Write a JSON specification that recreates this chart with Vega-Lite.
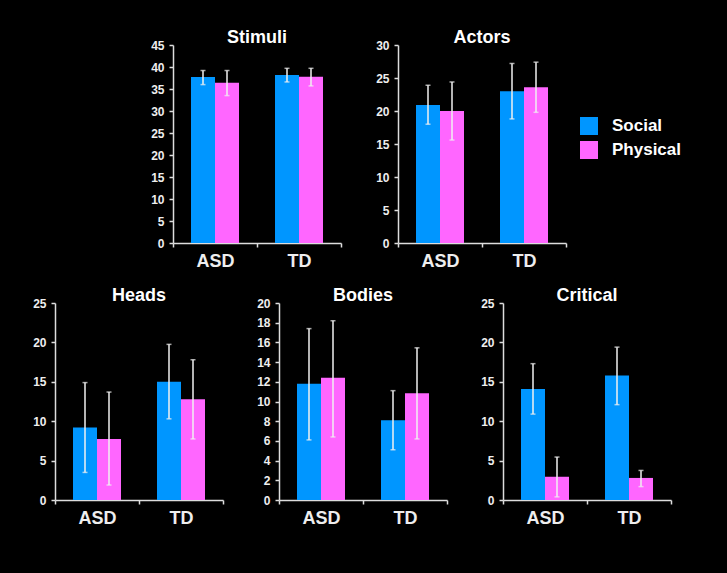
{
  "$schema": "https://vega.github.io/schema/vega-lite/v6.json",
  "background": "black",
  "padding": {"left": 32, "top": 29, "right": 46, "bottom": 55},
  "datasets": {
    "d": [
      {"panel": "Stimuli", "group": "ASD", "type": "Social", "mean": 37.7, "lo": 36.0, "hi": 39.2},
      {"panel": "Stimuli", "group": "ASD", "type": "Physical", "mean": 36.4, "lo": 33.5, "hi": 39.2},
      {"panel": "Stimuli", "group": "TD", "type": "Social", "mean": 38.2, "lo": 36.6, "hi": 39.7},
      {"panel": "Stimuli", "group": "TD", "type": "Physical", "mean": 37.8, "lo": 35.7, "hi": 39.7},
      {"panel": "Actors", "group": "ASD", "type": "Social", "mean": 20.9, "lo": 18.0, "hi": 23.9},
      {"panel": "Actors", "group": "ASD", "type": "Physical", "mean": 20.0, "lo": 15.6, "hi": 24.4},
      {"panel": "Actors", "group": "TD", "type": "Social", "mean": 23.0, "lo": 18.8, "hi": 27.2},
      {"panel": "Actors", "group": "TD", "type": "Physical", "mean": 23.6, "lo": 19.8, "hi": 27.4},
      {"panel": "Heads", "group": "ASD", "type": "Social", "mean": 9.2, "lo": 3.5, "hi": 14.9},
      {"panel": "Heads", "group": "ASD", "type": "Physical", "mean": 7.75, "lo": 1.9, "hi": 13.7},
      {"panel": "Heads", "group": "TD", "type": "Social", "mean": 15.0, "lo": 10.3, "hi": 19.75},
      {"panel": "Heads", "group": "TD", "type": "Physical", "mean": 12.8, "lo": 7.75, "hi": 17.8},
      {"panel": "Bodies", "group": "ASD", "type": "Social", "mean": 11.8, "lo": 6.1, "hi": 17.4},
      {"panel": "Bodies", "group": "ASD", "type": "Physical", "mean": 12.4, "lo": 6.4, "hi": 18.2},
      {"panel": "Bodies", "group": "TD", "type": "Social", "mean": 8.1, "lo": 5.1, "hi": 11.1},
      {"panel": "Bodies", "group": "TD", "type": "Physical", "mean": 10.85, "lo": 6.2, "hi": 15.45},
      {"panel": "Critical", "group": "ASD", "type": "Social", "mean": 14.1, "lo": 10.9, "hi": 17.3},
      {"panel": "Critical", "group": "ASD", "type": "Physical", "mean": 2.95, "lo": 0.4, "hi": 5.45},
      {"panel": "Critical", "group": "TD", "type": "Social", "mean": 15.8, "lo": 12.1, "hi": 19.4},
      {"panel": "Critical", "group": "TD", "type": "Physical", "mean": 2.8, "lo": 1.7, "hi": 3.75}
    ]
  },
  "vconcat": [
    {
      "hconcat": [
        {
          "width": 62, "height": 198,
          "data": {"values": [{"s": 0}]},
          "mark": {"type": "point", "opacity": 0},
          "encoding": {}
        },
        {
          "width": 168, "height": 198, "title": "Stimuli",
          "data": {"name": "d"},
          "transform": [{"filter": "datum.panel === 'Stimuli'"}],
          "encoding": {
            "x": {"field": "group", "type": "nominal", "sort": ["ASD", "TD"], "scale": {"paddingInner": 0, "paddingOuter": 0}, "axis": {"title": null, "labelAngle": 0}},
            "xOffset": {"field": "type", "type": "nominal", "sort": ["Social", "Physical"], "scale": {"paddingInner": 0, "paddingOuter": 0.75}}
          },
          "layer": [
            {"mark": {"type": "bar"}, "encoding": {"y": {"field": "mean", "type": "quantitative", "scale": {"domain": [0, 45], "nice": false}, "axis": {"title": null, "values": [0, 5, 10, 15, 20, 25, 30, 35, 40, 45]}}, "color": {"field": "type", "type": "nominal", "sort": ["Social", "Physical"], "scale": {"domain": ["Social", "Physical"], "range": ["#0096ff", "#ff66ff"]}, "legend": {"title": null}}}},
            {"mark": {"type": "rule", "color": "#f0f0f0", "strokeWidth": 1.5}, "encoding": {"y": {"field": "lo", "type": "quantitative", "axis": {"title": null, "values": [0, 5, 10, 15, 20, 25, 30, 35, 40, 45]}}, "y2": {"field": "hi"}}},
            {"mark": {"type": "tick", "color": "#f0f0f0", "size": 5, "thickness": 1.5}, "encoding": {"y": {"field": "lo", "type": "quantitative", "axis": {"title": null, "values": [0, 5, 10, 15, 20, 25, 30, 35, 40, 45]}}}},
            {"mark": {"type": "tick", "color": "#f0f0f0", "size": 5, "thickness": 1.5}, "encoding": {"y": {"field": "hi", "type": "quantitative", "axis": {"title": null, "values": [0, 5, 10, 15, 20, 25, 30, 35, 40, 45]}}}}
          ]
        },
        {
          "width": 168, "height": 198, "title": "Actors",
          "data": {"name": "d"},
          "transform": [{"filter": "datum.panel === 'Actors'"}],
          "encoding": {
            "x": {"field": "group", "type": "nominal", "sort": ["ASD", "TD"], "scale": {"paddingInner": 0, "paddingOuter": 0}, "axis": {"title": null, "labelAngle": 0}},
            "xOffset": {"field": "type", "type": "nominal", "sort": ["Social", "Physical"], "scale": {"paddingInner": 0, "paddingOuter": 0.75}}
          },
          "layer": [
            {"mark": {"type": "bar"}, "encoding": {"y": {"field": "mean", "type": "quantitative", "scale": {"domain": [0, 30], "nice": false}, "axis": {"title": null, "values": [0, 5, 10, 15, 20, 25, 30]}}, "color": {"field": "type", "type": "nominal", "sort": ["Social", "Physical"], "scale": {"domain": ["Social", "Physical"], "range": ["#0096ff", "#ff66ff"]}, "legend": {"title": null}}}},
            {"mark": {"type": "rule", "color": "#f0f0f0", "strokeWidth": 1.5}, "encoding": {"y": {"field": "lo", "type": "quantitative", "axis": {"title": null, "values": [0, 5, 10, 15, 20, 25, 30]}}, "y2": {"field": "hi"}}},
            {"mark": {"type": "tick", "color": "#f0f0f0", "size": 5, "thickness": 1.5}, "encoding": {"y": {"field": "lo", "type": "quantitative", "axis": {"title": null, "values": [0, 5, 10, 15, 20, 25, 30]}}}},
            {"mark": {"type": "tick", "color": "#f0f0f0", "size": 5, "thickness": 1.5}, "encoding": {"y": {"field": "hi", "type": "quantitative", "axis": {"title": null, "values": [0, 5, 10, 15, 20, 25, 30]}}}}
          ]
        }
      ],
      "spacing": 33
    },
    {
      "hconcat": [
        {
          "width": 168, "height": 197, "title": "Heads",
          "data": {"name": "d"},
          "transform": [{"filter": "datum.panel === 'Heads'"}],
          "encoding": {
            "x": {"field": "group", "type": "nominal", "sort": ["ASD", "TD"], "scale": {"paddingInner": 0, "paddingOuter": 0}, "axis": {"title": null, "labelAngle": 0}},
            "xOffset": {"field": "type", "type": "nominal", "sort": ["Social", "Physical"], "scale": {"paddingInner": 0, "paddingOuter": 0.75}}
          },
          "layer": [
            {"mark": {"type": "bar"}, "encoding": {"y": {"field": "mean", "type": "quantitative", "scale": {"domain": [0, 25], "nice": false}, "axis": {"title": null, "values": [0, 5, 10, 15, 20, 25]}}, "color": {"field": "type", "type": "nominal", "sort": ["Social", "Physical"], "scale": {"domain": ["Social", "Physical"], "range": ["#0096ff", "#ff66ff"]}, "legend": {"title": null}}}},
            {"mark": {"type": "rule", "color": "#f0f0f0", "strokeWidth": 1.5}, "encoding": {"y": {"field": "lo", "type": "quantitative", "axis": {"title": null, "values": [0, 5, 10, 15, 20, 25]}}, "y2": {"field": "hi"}}},
            {"mark": {"type": "tick", "color": "#f0f0f0", "size": 5, "thickness": 1.5}, "encoding": {"y": {"field": "lo", "type": "quantitative", "axis": {"title": null, "values": [0, 5, 10, 15, 20, 25]}}}},
            {"mark": {"type": "tick", "color": "#f0f0f0", "size": 5, "thickness": 1.5}, "encoding": {"y": {"field": "hi", "type": "quantitative", "axis": {"title": null, "values": [0, 5, 10, 15, 20, 25]}}}}
          ]
        },
        {
          "width": 168, "height": 197, "title": "Bodies",
          "data": {"name": "d"},
          "transform": [{"filter": "datum.panel === 'Bodies'"}],
          "encoding": {
            "x": {"field": "group", "type": "nominal", "sort": ["ASD", "TD"], "scale": {"paddingInner": 0, "paddingOuter": 0}, "axis": {"title": null, "labelAngle": 0}},
            "xOffset": {"field": "type", "type": "nominal", "sort": ["Social", "Physical"], "scale": {"paddingInner": 0, "paddingOuter": 0.75}}
          },
          "layer": [
            {"mark": {"type": "bar"}, "encoding": {"y": {"field": "mean", "type": "quantitative", "scale": {"domain": [0, 20], "nice": false}, "axis": {"title": null, "values": [0, 2, 4, 6, 8, 10, 12, 14, 16, 18, 20]}}, "color": {"field": "type", "type": "nominal", "sort": ["Social", "Physical"], "scale": {"domain": ["Social", "Physical"], "range": ["#0096ff", "#ff66ff"]}, "legend": {"title": null}}}},
            {"mark": {"type": "rule", "color": "#f0f0f0", "strokeWidth": 1.5}, "encoding": {"y": {"field": "lo", "type": "quantitative", "axis": {"title": null, "values": [0, 2, 4, 6, 8, 10, 12, 14, 16, 18, 20]}}, "y2": {"field": "hi"}}},
            {"mark": {"type": "tick", "color": "#f0f0f0", "size": 5, "thickness": 1.5}, "encoding": {"y": {"field": "lo", "type": "quantitative", "axis": {"title": null, "values": [0, 2, 4, 6, 8, 10, 12, 14, 16, 18, 20]}}}},
            {"mark": {"type": "tick", "color": "#f0f0f0", "size": 5, "thickness": 1.5}, "encoding": {"y": {"field": "hi", "type": "quantitative", "axis": {"title": null, "values": [0, 2, 4, 6, 8, 10, 12, 14, 16, 18, 20]}}}}
          ]
        },
        {
          "width": 168, "height": 197, "title": "Critical",
          "data": {"name": "d"},
          "transform": [{"filter": "datum.panel === 'Critical'"}],
          "encoding": {
            "x": {"field": "group", "type": "nominal", "sort": ["ASD", "TD"], "scale": {"paddingInner": 0, "paddingOuter": 0}, "axis": {"title": null, "labelAngle": 0}},
            "xOffset": {"field": "type", "type": "nominal", "sort": ["Social", "Physical"], "scale": {"paddingInner": 0, "paddingOuter": 0.75}}
          },
          "layer": [
            {"mark": {"type": "bar"}, "encoding": {"y": {"field": "mean", "type": "quantitative", "scale": {"domain": [0, 25], "nice": false}, "axis": {"title": null, "values": [0, 5, 10, 15, 20, 25]}}, "color": {"field": "type", "type": "nominal", "sort": ["Social", "Physical"], "scale": {"domain": ["Social", "Physical"], "range": ["#0096ff", "#ff66ff"]}, "legend": {"title": null}}}},
            {"mark": {"type": "rule", "color": "#f0f0f0", "strokeWidth": 1.5}, "encoding": {"y": {"field": "lo", "type": "quantitative", "axis": {"title": null, "values": [0, 5, 10, 15, 20, 25]}}, "y2": {"field": "hi"}}},
            {"mark": {"type": "tick", "color": "#f0f0f0", "size": 5, "thickness": 1.5}, "encoding": {"y": {"field": "lo", "type": "quantitative", "axis": {"title": null, "values": [0, 5, 10, 15, 20, 25]}}}},
            {"mark": {"type": "tick", "color": "#f0f0f0", "size": 5, "thickness": 1.5}, "encoding": {"y": {"field": "hi", "type": "quantitative", "axis": {"title": null, "values": [0, 5, 10, 15, 20, 25]}}}}
          ]
        }
      ],
      "spacing": 32
    }
  ],
  "spacing": 17,
  "config": {
    "view": {"stroke": null},
    "font": "Liberation Sans",
    "title": {"color": "white", "fontSize": 18, "fontWeight": "bold", "font": "Liberation Sans", "offset": -8, "anchor": "middle"},
    "axis": {"grid": false, "domainColor": "#dddddd", "tickColor": "#dddddd", "domainWidth": 1.5, "tickWidth": 1.5, "labelColor": "#eeeeee", "labelFont": "Liberation Sans", "labelFontWeight": "bold", "labelOverlap": false},
    "axisY": {"labelFontSize": 12, "tickSize": 4, "labelPadding": 5},
    "axisX": {"labelFontSize": 18, "tickSize": 4, "labelPadding": 5, "tickBand": "extent"},
    "legend": {"orient": "none", "legendX": 525, "legendY": 72, "padding": 0, "symbolType": "square", "symbolSize": 324, "symbolStrokeWidth": 0, "labelFontSize": 17, "labelFontWeight": "bold", "labelColor": "white", "labelFont": "Liberation Sans", "rowPadding": 6, "labelOffset": 14}
  }
}
